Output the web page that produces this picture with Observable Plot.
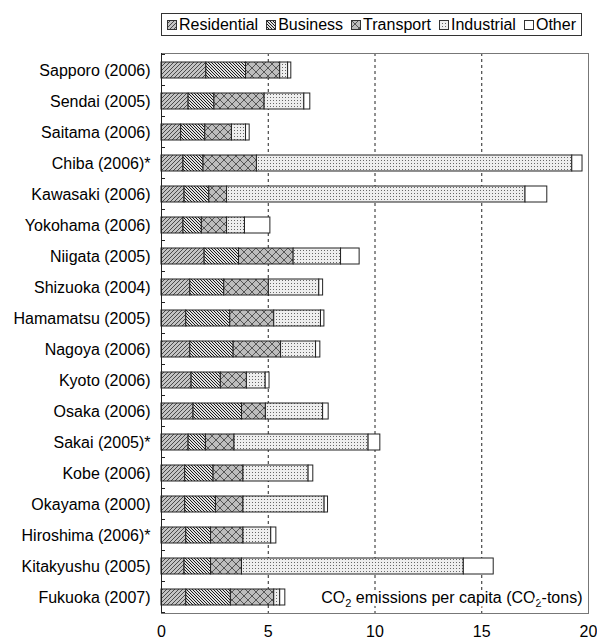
<!DOCTYPE html>
<html><head><meta charset="utf-8">
<script src="https://cdn.jsdelivr.net/npm/d3@7"></script>
<script src="https://cdn.jsdelivr.net/npm/@observablehq/plot@0.6"></script>
<style>
body{margin:0;background:#fff;font-family:"Liberation Sans",Arial,sans-serif;}
#legend{position:relative;height:40px;}
#legend .box{position:absolute;left:161px;top:13px;width:421px;height:23px;border:1px solid #333;display:flex;align-items:center;justify-content:space-between;padding:0 5px;box-sizing:border-box;font-size:16px;color:#000;}
#legend .item{display:flex;align-items:center;gap:2px;white-space:nowrap;}
#legend svg{display:block;}
</style></head>
<body>
<svg width="0" height="0" style="position:absolute">
<defs>
<pattern id="pat-res" width="4" height="4" patternUnits="userSpaceOnUse">
<rect width="4" height="4" fill="#c4c4c4"/>
<path d="M-1,1 l2,-2 M0,4 l4,-4 M3,5 l2,-2" stroke="#4a4a4a" stroke-width="1"/>
</pattern>
<pattern id="pat-bus" width="3" height="3" patternUnits="userSpaceOnUse">
<rect width="3" height="3" fill="#e0e0e0"/>
<path d="M-1,2 l2,2 M0,0 l3,3 M2,-1 l2,2" stroke="#1a1a1a" stroke-width="1"/>
</pattern>
<pattern id="pat-tra" width="8" height="8" patternUnits="userSpaceOnUse">
<rect width="8" height="8" fill="#bdbdbd"/>
<path d="M0,0 L8,8 M8,0 L0,8" stroke="#555" stroke-width="1"/>
</pattern>
<pattern id="pat-ind" width="3" height="3" patternUnits="userSpaceOnUse">
<rect width="3" height="3" fill="#eeeeee"/>
<rect width="1" height="1" fill="#666"/>
</pattern>
<pattern id="pat-oth" width="4" height="4" patternUnits="userSpaceOnUse">
<rect width="4" height="4" fill="#fff"/>
</pattern>
</defs>
</svg>
<div id="legend"><div class="box"></div></div>
<div id="chart"></div>
<script>
const cities = ["Sapporo (2006)","Sendai (2005)","Saitama (2006)","Chiba (2006)*","Kawasaki (2006)","Yokohama (2006)","Niigata (2005)","Shizuoka (2004)","Hamamatsu (2005)","Nagoya (2006)","Kyoto (2006)","Osaka (2006)","Sakai (2005)*","Kobe (2006)","Okayama (2000)","Hiroshima (2006)*","Kitakyushu (2005)","Fukuoka (2007)"];
const sectors = ["Residential","Business","Transport","Industrial","Other"];
const sectorKeys = ["res","bus","tra","ind","oth"];
const residential = [2.10,1.27,0.92,1.03,1.08,1.03,2.02,1.35,1.16,1.35,1.41,1.50,1.27,1.11,1.11,1.16,1.08,1.16];
const business    = [1.86,1.21,1.13,0.94,1.16,0.86,1.61,1.59,2.06,2.03,1.37,2.27,0.81,1.33,1.44,1.16,1.24,2.09];
const transport   = [1.60,2.35,1.25,2.50,0.83,1.18,2.56,2.09,2.06,2.22,1.22,1.12,1.34,1.40,1.29,1.52,1.45,2.03];
const industrial  = [0.37,1.86,0.66,14.77,13.98,0.84,2.22,2.36,2.19,1.64,0.88,2.68,6.28,3.05,3.80,1.30,10.39,0.28];
const other       = [0.15,0.28,0.17,0.48,1.02,1.19,0.87,0.18,0.16,0.20,0.18,0.26,0.55,0.22,0.16,0.24,1.40,0.24];
const xTicks = [0,5,10,15,20];
const gridValues = [5,10,15];
const axisLabel = "CO2 emissions per capita (CO2-tons)";

const series = [residential,business,transport,industrial,other];
const data = [];
cities.forEach((c,i)=>{
  sectors.forEach((s,j)=>data.push({city:c, sector:s, value:series[j][i]}));
});

// legend
const box = document.querySelector("#legend .box");
sectors.forEach((s,j)=>{
  const item = document.createElement("div");
  item.className="item";
  item.innerHTML = `<svg width="10" height="10"><rect x="0.5" y="0.5" width="9" height="9" fill="url(#pat-${sectorKeys[j]})" stroke="#333"/></svg><span>${s}</span>`;
  box.appendChild(item);
});

const chart = Plot.plot({
  width:597, height:603,
  marginTop:13, marginBottom:30, marginLeft:161, marginRight:9,
  style:{fontFamily:"Liberation Sans, Arial, sans-serif", fontSize:"16px", color:"#000", background:"#fff"},
  x:{domain:[0,20], ticks:xTicks, tickSize:0, tickPadding:12, label:null},
  y:{domain:cities, paddingInner:0.5, paddingOuter:0.25, tickSize:0, tickPadding:11, label:null},
  color:{domain:sectors, range:sectorKeys.map(k=>`url(#pat-${k})`)},
  marks:[
    Plot.ruleX(gridValues,{stroke:"#222", strokeDasharray:"3,3", strokeWidth:1}),
    Plot.barX(data,{y:"city", x:"value", fill:"sector", stroke:"#222", strokeWidth:1}),
    Plot.frame({stroke:"#777"}),
    Plot.ruleX([0],{stroke:"#222"}),
    Plot.text([axisLabel],{x:20, y:()=>cities[cities.length-1], text:d=>d, textAnchor:"end", dx:-6, fill:"#000", stroke:"#fff", strokeWidth:6, fontSize:16})
  ]
});
document.getElementById("chart").appendChild(chart);

// subscripts in label
d3.select(chart).selectAll('g[aria-label="text"] text').each(function(){
  const t = d3.select(this);
  t.text(null);
  t.html('CO<tspan dy="4" font-size="11">2</tspan><tspan dy="-4"> emissions per capita (CO</tspan><tspan dy="4" font-size="11">2</tspan><tspan dy="-4">-tons)</tspan>');
});

// inward category boundary ticks on the y axis
const ys = chart.scale("y");
const xs = chart.scale("x");
const gap = (ys.step - ys.bandwidth)/2;
const x0 = xs.apply(0);
const bounds = cities.map(c=>ys.apply(c)-gap).concat([ys.apply(cities[cities.length-1])+ys.bandwidth+gap]);
d3.select(chart).append("g").selectAll("line").data(bounds).join("line")
  .attr("x1",x0).attr("x2",x0+4).attr("y1",d=>d).attr("y2",d=>d)
  .attr("stroke","#222");
</script>
</body></html>
